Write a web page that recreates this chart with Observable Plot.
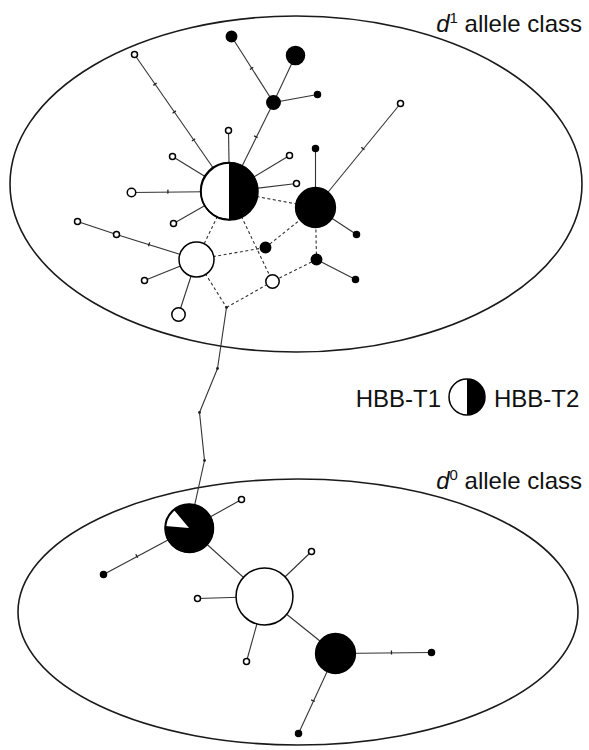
<!DOCTYPE html>
<html>
<head>
<meta charset="utf-8">
<script src="https://cdn.jsdelivr.net/npm/d3@7"></script>
<script src="https://cdn.jsdelivr.net/npm/@observablehq/plot@0.6"></script>
<style>
  html, body { margin: 0; padding: 0; background: #fff; }
  #chart { width: 589px; height: 750px; }
</style>
</head>
<body>
<div id="chart"></div>
<script>
// ---------------- DATA ----------------
// Haplotype nodes (layout coordinates of the network) and their counts per HBB type
const nodeIds = ["A","B","C","D","E","F","G","J","H","I","K","L",
  "M1","M2","M3","M4","M5","M6","M7","M8","M9","M10",
  "N1","N2","N3","N4","V1","V2","V3",
  "P","Q","R","S1","S2","S3","S4","S5","S6","S7"];
const nodeX = [229,315,196,178,272,265,316,226,273,295,231,317,
  134,228,172,289,296,131,173,77,116,144,
  315,400,356,355,217,199,204,
  189,264,335,241,103,197,311,246,431,298];
const nodeY = [191,207,259,314,281,247,259,307,102,55,36,94,
  54,130,156,155,183,192,223,221,234,280,
  148,103,234,279,368,412,460,
  528,596,653,499,574,598,551,661,652,733];
const countT1 = [45,0,34,5,5,0,0,0,0,0,0,0,
  1,1,1,1,1,2,1,1,1,1,
  0,1,0,0,0,0,0,
  8,90,0,1,0,1,1,1,0,0];
const countT2 = [45,44,0,0,0,3,3,0,5,9,3,1,
  0,0,0,0,0,0,0,0,0,0,
  1,0,1,1,0,0,0,
  56,0,44,0,1,0,0,0,1,1];

// Network links: from, to, mutational steps, kind
const edgeFrom  = ["A","A","A","A","A","A","A","A","H","H","H","B","B","B","C","M9","C","C","G",
                   "J","V1","V2","V3","P","P","P","Q","Q","Q","Q","R","R",
                   "A","A","A","C","F","B","G","C","J"];
const edgeTo    = ["M1","M2","M3","M4","M5","M6","M7","H","K","I","L","N1","N2","N3","M9","M8","M10","D","N4",
                   "V1","V2","V3","P","S1","S2","Q","S3","S4","S5","R","S6","S7",
                   "C","B","E","F","B","G","E","J","E"];
const edgeSteps = [4,1,1,1,1,2,1,2,2,1,1,1,2,1,2,1,1,1,1,
                   1,1,1,1,1,2,1,1,1,1,1,2,2,
                   1,1,1,1,1,1,1,1,1];
const edgeKind  = ["obs","obs","obs","obs","obs","obs","obs","obs","obs","obs","obs","obs","obs","obs","obs","obs","obs","obs","obs",
                   "obs","obs","obs","obs","obs","obs","obs","obs","obs","obs","obs","obs","obs",
                   "alt","alt","alt","alt","alt","alt","alt","alt","alt"];

// Allele-class groups (enclosing ellipses)
const groupNames = ["d1", "d0"];
const groupCx = [296, 298];
const groupCy = [184, 612];
const groupRx = [286, 280];
const groupRy = [168, 133];

// Text labels
const groupLabelSup = ["1", "0"];
const groupLabelX = [582, 582];
const groupLabelY = [32, 489];
const legendLabels = ["HBB-T1", "HBB-T2"];

// ---------------- BUILD ----------------
const nodes = nodeIds.map((id, i) => ({id, x: nodeX[i], y: nodeY[i], t1: countT1[i], t2: countT2[i], n: countT1[i] + countT2[i]}));
const byId = new Map(nodes.map(d => [d.id, d]));
const edges = edgeFrom.map((f, i) => ({a: byId.get(f), b: byId.get(edgeTo[i]), steps: edgeSteps[i], kind: edgeKind[i]}));
const groups = groupNames.map((g, i) => ({g, cx: groupCx[i], cy: groupCy[i], rx: groupRx[i], ry: groupRy[i]}));
const pieStart = {A: 0, P: 320}; // degrees, where the HBB-T2 wedge starts
const fallbackR = d3.scaleSqrt().domain([0, 1]).range([0, 3]);
const FONT = "'Liberation Sans', Arial, Helvetica, sans-serif";

function ellipseMark(index, scales) {
  const g = d3.create("svg:g");
  for (const e of groups) {
    const cx = scales.x(e.cx), cy = scales.y(e.cy);
    g.append("ellipse")
      .attr("cx", cx).attr("cy", cy)
      .attr("rx", scales.x(e.cx + e.rx) - cx)
      .attr("ry", scales.y(e.cy + e.ry) - cy)
      .attr("fill", "none").attr("stroke", "#1a1a1a").attr("stroke-width", 1.6);
  }
  return g.node();
}

function tickMark(index, scales) {
  const R = scales.r || fallbackR;
  const g = d3.create("svg:g").attr("stroke", "#222").attr("stroke-width", 1.3);
  for (const e of edges) {
    if (e.steps < 2) continue;
    const ax = scales.x(e.a.x), ay = scales.y(e.a.y), bx = scales.x(e.b.x), by = scales.y(e.b.y);
    const L = Math.hypot(bx - ax, by - ay), ux = (bx - ax) / L, uy = (by - ay) / L;
    const ra = e.a.n ? R(e.a.n) : 0, rb = e.b.n ? R(e.b.n) : 0;
    const sx = ax + ux * ra, sy = ay + uy * ra, ex = bx - ux * rb, ey = by - uy * rb;
    for (let k = 1; k < e.steps; k++) {
      const px = sx + (ex - sx) * k / e.steps, py = sy + (ey - sy) * k / e.steps;
      g.append("line")
        .attr("x1", px - uy * 2).attr("y1", py + ux * 2)
        .attr("x2", px + uy * 2).attr("y2", py - ux * 2);
    }
  }
  return g.node();
}

function pieMark(index, scales) {
  const R = scales.r || fallbackR;
  const g = d3.create("svg:g");
  const arc = d3.arc();
  for (const d of nodes) {
    if (!(d.t1 > 0 && d.t2 > 0)) continue;
    const cx = scales.x(d.x), cy = scales.y(d.y), r = R(d.n);
    const a0 = (pieStart[d.id] || 0) * Math.PI / 180;
    const a1 = a0 + 2 * Math.PI * d.t2 / d.n;
    g.append("path")
      .attr("transform", `translate(${cx},${cy})`)
      .attr("d", arc({innerRadius: 0, outerRadius: r, startAngle: a0, endAngle: a1}))
      .attr("fill", "#000");
    g.append("circle").attr("cx", cx).attr("cy", cy).attr("r", r)
      .attr("fill", "none").attr("stroke", "#000").attr("stroke-width", 1.5);
  }
  return g.node();
}

function labelMark(index, scales) {
  const g = d3.create("svg:g").attr("font-family", FONT).attr("fill", "#111");
  groups.forEach((e, i) => {
    const t = g.append("text")
      .attr("x", scales.x(groupLabelX[i])).attr("y", scales.y(groupLabelY[i]))
      .attr("text-anchor", "end").attr("font-size", 24);
    t.append("tspan").attr("font-style", "italic").text(e.g.charAt(0));
    t.append("tspan").attr("font-size", 15).attr("dy", -9).text(groupLabelSup[i]);
    t.append("tspan").attr("dy", 9).text(" allele class");
  });
  // legend: HBB-T1 (white half) / HBB-T2 (black half)
  const lx = scales.x(467), ly = scales.y(397), lr = 18;
  g.append("text").attr("x", lx - lr - 8).attr("y", ly + 10).attr("text-anchor", "end")
    .attr("font-size", 24).text(legendLabels[0]);
  g.append("text").attr("x", lx + lr + 9).attr("y", ly + 10).attr("text-anchor", "start")
    .attr("font-size", 24).text(legendLabels[1]);
  g.append("circle").attr("cx", lx).attr("cy", ly).attr("r", lr).attr("fill", "#fff");
  g.append("path").attr("transform", `translate(${lx},${ly})`)
    .attr("d", d3.arc()({innerRadius: 0, outerRadius: lr, startAngle: 0, endAngle: Math.PI}))
    .attr("fill", "#000");
  g.append("circle").attr("cx", lx).attr("cy", ly).attr("r", lr)
    .attr("fill", "none").attr("stroke", "#000").attr("stroke-width", 1.5);
  return g.node();
}

const chart = Plot.plot({
  width: 589,
  height: 750,
  margin: 0,
  x: {domain: [0, 589], range: [0, 589], axis: null},
  y: {domain: [0, 750], range: [0, 750], axis: null},
  r: {type: "sqrt", domain: [0, 1], range: [0, 3]},
  style: {background: "#fff"},
  marks: [
    ellipseMark,
    Plot.link(edges.filter(e => e.kind === "obs"), {
      x1: d => d.a.x, y1: d => d.a.y, x2: d => d.b.x, y2: d => d.b.y,
      stroke: "#333", strokeWidth: 1.1
    }),
    Plot.link(edges.filter(e => e.kind === "alt"), {
      x1: d => d.a.x, y1: d => d.a.y, x2: d => d.b.x, y2: d => d.b.y,
      stroke: "#333", strokeWidth: 1.1, strokeDasharray: "3,2.5"
    }),
    tickMark,
    Plot.dot(nodes.filter(d => d.n === 0), {x: "x", y: "y", r: 1.4, fill: "#222"}),
    Plot.dot(nodes.filter(d => d.n > 0), {
      x: "x", y: "y", r: "n",
      fill: d => d.t1 === 0 ? "#000" : "#fff",
      stroke: "#000", strokeWidth: 1.5
    }),
    pieMark,
    labelMark
  ]
});
document.getElementById("chart").appendChild(chart);
</script>
</body>
</html>
